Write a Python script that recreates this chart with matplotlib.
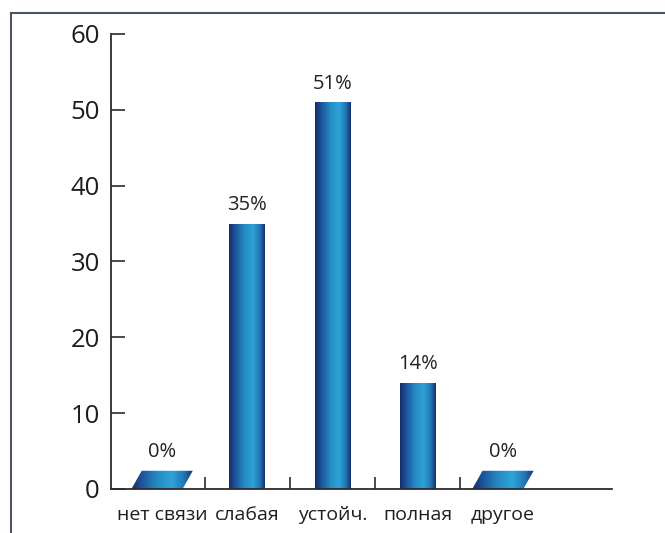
import numpy as np
import matplotlib
matplotlib.use("Agg")
import matplotlib.pyplot as plt
from matplotlib.colors import LinearSegmentedColormap
from matplotlib.patches import Polygon
from matplotlib.lines import Line2D

plt.rcParams['font.family'] = ['Open Sans', 'DejaVu Sans']

# survey answers, percent
categories = ["нет связи", "слабая", "устойч.", "полная", "другое"]
values = [0, 35, 51, 14, 0]
value_labels = ["0%", "35%", "51%", "14%", "0%"]
y_ticks = [0, 10, 20, 30, 40, 50, 60]

# cylinder-like shading across each bar
bar_cmap = LinearSegmentedColormap.from_list(
    "tube",
    [(0.0, "#142a66"), (0.15, "#1c4f96"), (0.42, "#2589c4"),
     (0.66, "#2ea4d8"), (0.86, "#2275b4"), (1.0, "#152f6c")])
grad = np.linspace(0, 1, 256).reshape(1, -1)

fig = plt.figure(figsize=(6.65, 5.33), dpi=100)
ax = fig.add_axes([0.1669, 0.0826, 0.7534, 0.8537])

x = np.arange(len(categories))
bar_w = 0.42
flat_h = 2.4      # height of the flat plate used for zero answers
flat_w = 0.72
skew = 0.12

for xi, v, lab in zip(x, values, value_labels):
    if v > 0:
        bar = ax.bar(xi, v, width=bar_w, color="none", edgecolor="none")[0]
        im = ax.imshow(grad, cmap=bar_cmap, aspect="auto", interpolation="bicubic",
                       extent=(xi - bar_w / 2, xi + bar_w / 2, 0, v), zorder=2)
        im.set_clip_path(bar)
        top = v
    else:
        l = xi - flat_w / 2
        pts = [(l, 0), (l + flat_w - skew, 0), (l + flat_w, flat_h), (l + skew, flat_h)]
        plate = Polygon(pts, closed=True, facecolor="none", edgecolor="none")
        ax.add_patch(plate)
        im = ax.imshow(grad, cmap=bar_cmap, aspect="auto", interpolation="bicubic",
                       extent=(l, l + flat_w, 0, flat_h), zorder=2)
        im.set_clip_path(plate)
        top = flat_h
    ax.annotate(lab, (xi, top), xytext=(0, 6),
                textcoords="offset points", ha="center", va="bottom",
                fontsize=14.5, color="#222222")

ax.set_xlim(-0.6, 5.28)
ax.set_ylim(0, 60)

ax.set_yticks(y_ticks)
ax.tick_params(axis="y", direction="in", length=10, width=1.2, pad=8,
               labelsize=18.5, colors="#2b2b2b", labelcolor="#1e1e1e")

ax.set_xticks(x)
ax.set_xticklabels(categories)
ax.set_xticks(x[:-1] + 0.5, minor=True)
ax.tick_params(axis="x", which="major", length=0, pad=12, labelsize=14,
               labelcolor="#1e1e1e")
ax.tick_params(axis="x", which="minor", direction="in", length=9, width=1.2,
               colors="#2b2b2b")

for s in ("top", "right"):
    ax.spines[s].set_visible(False)
for s in ("left", "bottom"):
    ax.spines[s].set_color("#2b2b2b")
    ax.spines[s].set_linewidth(1.3)

# page frame around the chart
fig.add_artist(Line2D([11 / 665, 1.0], [1 - 13 / 533, 1 - 13 / 533],
                      transform=fig.transFigure, color="#4a5662", lw=1.5))
fig.add_artist(Line2D([11 / 665, 11 / 665], [0, 1 - 13 / 533],
                      transform=fig.transFigure, color="#4a5662", lw=1.5))

fig.savefig("out.png", dpi=100)
